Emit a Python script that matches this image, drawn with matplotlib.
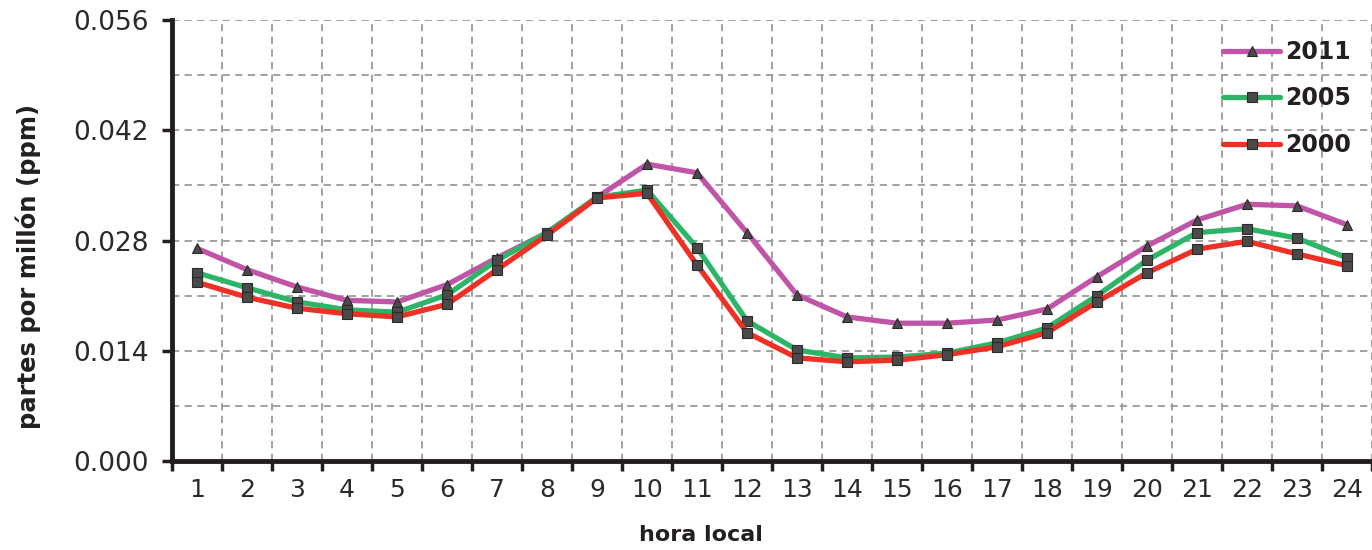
import matplotlib
matplotlib.use("Agg")
import matplotlib.pyplot as plt
from matplotlib.ticker import FixedLocator, NullFormatter, FixedFormatter

hours = list(range(1, 25))
y2011 = [0.0270, 0.0243, 0.0221, 0.0204, 0.0202, 0.0224, 0.0258, 0.0290, 0.0335, 0.0377,
         0.0366, 0.0290, 0.0211, 0.0183, 0.0175, 0.0175, 0.0179, 0.0193, 0.0234, 0.0273,
         0.0306, 0.0326, 0.0324, 0.0300]
y2005 = [0.0239, 0.0220, 0.0202, 0.0192, 0.0189, 0.0211, 0.0255, 0.0290, 0.0335, 0.0344,
         0.0271, 0.0178, 0.0141, 0.0131, 0.0132, 0.0137, 0.0150, 0.0169, 0.0210, 0.0255,
         0.0290, 0.0295, 0.0283, 0.0258]
y2000 = [0.0227, 0.0208, 0.0194, 0.0187, 0.0183, 0.0199, 0.0243, 0.0287, 0.0334, 0.0340,
         0.0249, 0.0163, 0.0131, 0.0126, 0.0128, 0.0135, 0.0145, 0.0163, 0.0202, 0.0239,
         0.0269, 0.0279, 0.0263, 0.0248]
series = [("2011", y2011, "#C055A8", "^"), ("2005", y2005, "#2DB567", "s"), ("2000", y2000, "#EE3124", "s")]
yticks = [0.0, 0.014, 0.028, 0.042, 0.056]

plt.rcParams["font.family"] = ["DejaVu Sans"]

fig = plt.figure(figsize=(13.72, 5.5), dpi=100)
ax = fig.add_axes([0.1254, 0.1618, 0.8746, 0.8018])

xpos = [h - 0.5 for h in hours]
for name, vals, col, mk in series:
    ax.plot(xpos, vals, color=col, lw=3.8, marker=mk, ms=7.5, mfc="#4a4a4a", mec="#2b2b2b",
            mew=0.8, label=name, solid_joinstyle="round", solid_capstyle="round")

ax.set_xlim(0, 24)
ax.set_ylim(0, 0.056)

# grid lines on integer boundaries, labels at category centres
ax.xaxis.set_major_locator(FixedLocator(list(range(0, 25))))
ax.xaxis.set_major_formatter(NullFormatter())
ax.xaxis.set_minor_locator(FixedLocator(xpos))
ax.xaxis.set_minor_formatter(FixedFormatter([str(h) for h in hours]))
ax.tick_params(axis="x", which="major", length=7, width=2.5, direction="out", color="#231f20")
ax.tick_params(axis="x", which="minor", length=0, pad=12, labelsize=18, labelcolor="#2a2a2a")

ax.yaxis.set_major_locator(FixedLocator(yticks))
ax.yaxis.set_major_formatter(FixedFormatter(["%.3f" % t for t in yticks]))
ax.yaxis.set_minor_locator(FixedLocator([0.007, 0.021, 0.035, 0.049]))
ax.tick_params(axis="y", which="major", length=7, width=2.5, labelsize=19, pad=10, labelcolor="#2a2a2a", color="#231f20")
ax.tick_params(axis="y", which="minor", length=0)

ax.grid(True, which="major", axis="both", ls=(0, (4, 3)), color="#9a9a9a", lw=1.3)
ax.grid(True, which="minor", axis="y", ls=(0, (4, 3)), color="#9a9a9a", lw=1.3)
ax.grid(False, which="minor", axis="x")
ax.set_axisbelow(True)

for s in ["top", "right"]:
    ax.spines[s].set_visible(False)
for s in ["left", "bottom"]:
    ax.spines[s].set_linewidth(3.5)
    ax.spines[s].set_color("#231f20")

ax.set_xlabel("hora local", fontsize=16, fontweight="bold", color="#231f20")
ax.set_ylabel("partes por millón (ppm)", fontsize=17.5, fontweight="bold", color="#231f20")
ax.xaxis.set_label_coords(0.441, -0.146)
ax.yaxis.set_label_coords(-0.109, 0.442)

leg = ax.legend(loc="upper right", bbox_to_anchor=(1.0, 1.003), frameon=False,
                handlelength=2.4, handletextpad=0.2, labelspacing=0.95, prop={"weight": "bold", "size": 17})
for t in leg.get_texts():
    t.set_color("#231f20")

fig.savefig("out.png", dpi=100)
